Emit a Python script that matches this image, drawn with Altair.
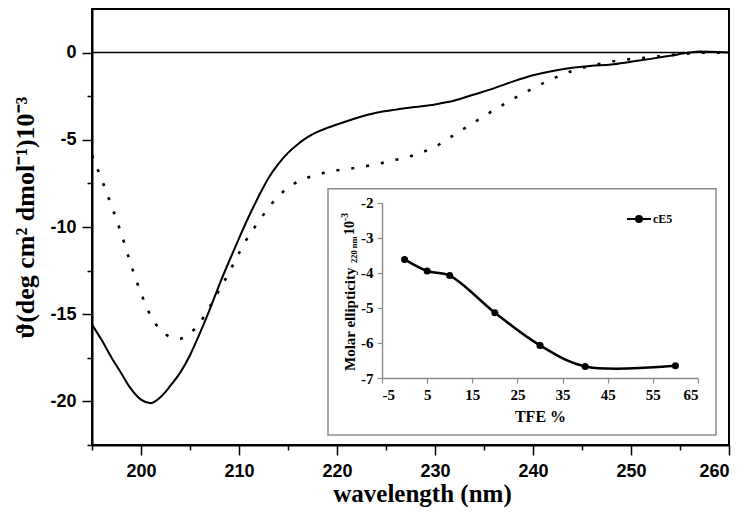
import altair as alt
import pandas as pd

# ---------------- data ----------------
solid_wl = [195, 196, 197, 198, 199, 200, 201, 202, 203, 204, 205, 206, 207, 208, 209, 210,
            211, 212, 213, 214, 215, 216, 217, 218, 219, 220, 222, 224, 226, 228, 230, 232,
            234, 236, 238, 240, 242, 244, 246, 248, 250, 252, 254, 256, 257, 258, 260]
solid_val = [-15.6, -16.5, -17.5, -18.4, -19.3, -19.9, -20.1, -19.75, -19.1, -18.35, -17.35,
             -16.1, -14.75, -13.3, -11.95, -10.65, -9.4, -8.25, -7.2, -6.4, -5.75, -5.25, -4.85,
             -4.55, -4.32, -4.12, -3.75, -3.45, -3.27, -3.12, -2.97, -2.75, -2.4, -2.05, -1.65,
             -1.3, -1.05, -0.87, -0.76, -0.68, -0.52, -0.36, -0.18, 0.0, 0.06, 0.05, 0.0]

dotted_wl = [195, 196, 197, 198, 199, 200, 201, 202, 203, 204, 205, 206, 207, 208, 209, 210,
             211, 212, 213, 214, 215, 216, 218, 220, 222, 224, 226, 228, 230, 232, 234, 236,
             238, 240, 242, 244, 246, 248, 250, 252, 254, 256, 258, 260]
dotted_val = [-5.9, -7.3, -8.8, -10.4, -12.2, -13.8, -15.1, -15.9, -16.3, -16.4, -16.1, -15.5,
              -14.6, -13.6, -12.6, -11.5, -10.5, -9.7, -8.9, -8.25, -7.75, -7.4, -7.0, -6.75,
              -6.6, -6.4, -6.15, -5.85, -5.4, -4.7, -4.0, -3.3, -2.65, -2.05, -1.5, -1.05,
              -0.75, -0.52, -0.37, -0.27, -0.14, -0.05, 0.0, 0.0]

tfe_pct = [0, 5, 10, 20, 30, 40, 60]
tfe_ellip = [-3.62, -3.95, -4.08, -5.14, -6.07, -6.67, -6.65]
series_name = ["cE5"] * len(tfe_pct)

x_major = [200, 210, 220, 230, 240, 250, 260]
x_minor = [195, 205, 215, 225, 235, 245, 255]
y_major = [-20, -15, -10, -5, 0]
y_minor = [-22.5, -17.5, -12.5, -7.5, -2.5]
inset_x_ticks = [-5, 5, 15, 25, 35, 45, 55, 65]
inset_y_ticks = [-7, -6, -5, -4, -3, -2]

# ---------------- layout ----------------
W, H = 637, 436
SANS = "Liberation Sans"
SERIF = "Liberation Serif"
GRAY = "#8c8c8c"

solid_df = pd.DataFrame({"wl": solid_wl, "val": solid_val})
dotted_df = pd.DataFrame({"wl": dotted_wl, "val": dotted_val})
zero_df = pd.DataFrame({"val": [0]})
tfe_df = pd.DataFrame({"tfe": tfe_pct, "ell": tfe_ellip, "series": series_name})
one = pd.DataFrame({"a": [0]})

xs = alt.Scale(domain=[195, 260], nice=False, zero=False)
ys = alt.Scale(domain=[-22.5, 2.5], nice=False, zero=False)

lab = "'' + datum.value"

x_axis = alt.Axis(orient="bottom", values=x_major, tickSize=10, tickWidth=1.5, tickColor="black",
                  domainColor="black", domainWidth=2, grid=False, labelExpr=lab,
                  labelFont=SANS, labelFontWeight="bold", labelFontSize=18, labelColor="black",
                  labelPadding=7, title="wavelength (nm)", titleFont=SERIF,
                  titleFontWeight="bold", titleFontSize=25, titleColor="black",
                  titleX=330, titleY=56, titleBaseline="alphabetic")
y_axis = alt.Axis(orient="left", values=y_major, tickSize=10, tickWidth=1.5, tickColor="black",
                  domainColor="black", domainWidth=2, grid=False, labelExpr=lab,
                  labelFont=SANS, labelFontWeight="bold", labelFontSize=18, labelColor="black",
                  labelPadding=6, title="ϑ(deg cm² dmol⁻¹)10⁻³", titleFont=SERIF,
                  titleFontWeight="bold", titleFontSize=26, titleColor="black",
                  titleX=-59, titleY=208, titleAngle=270, titleBaseline="alphabetic",
                  titleAlign="center")

X = alt.X("wl:Q", scale=xs, axis=x_axis)
Y = alt.Y("val:Q", scale=ys, axis=y_axis)

zero_rule = alt.Chart(zero_df).mark_rule(color="black", strokeWidth=1.5).encode(y=Y)
solid = alt.Chart(solid_df).mark_line(color="black", strokeWidth=2, interpolate="monotone").encode(x=X, y=Y)
dotted = alt.Chart(dotted_df).mark_line(color="black", strokeWidth=2.6, strokeDash=[3, 12],
                                         interpolate="monotone").encode(x=X, y=Y)
main = alt.layer(zero_rule, solid, dotted)

minor_x_axis = alt.Axis(orient="bottom", values=x_minor, tickSize=5, tickWidth=1.5, tickColor="black",
                        domain=False, labels=False, grid=False, title=None)
minor_y_axis = alt.Axis(orient="left", values=y_minor, tickSize=5, tickWidth=1.5, tickColor="black",
                        domain=False, labels=False, grid=False, title=None)
minor = alt.Chart(solid_df).mark_point(opacity=0).encode(
    x=alt.X("wl:Q", scale=xs, axis=minor_x_axis),
    y=alt.Y("val:Q", scale=ys, axis=minor_y_axis),
)

# ---------------- inset ----------------
ix0, ix1 = 290, 606
iy_bot, iy_top = 369.0, 193.6
ixs = alt.Scale(domain=[-5, 65], range=[ix0, ix1], nice=False, zero=False)
iys = alt.Scale(domain=[-7, -2], range=[iy_bot, iy_top], nice=False, zero=False)

inset_x_axis = alt.Axis(orient="bottom", offset=iy_bot - H, values=inset_x_ticks, tickSize=5,
                        tickColor=GRAY, tickWidth=1.2, domainColor=GRAY, domainWidth=1.5, grid=False,
                        labelExpr=lab, labelFont=SERIF, labelFontWeight="bold", labelFontSize=15,
                        labelColor="black", labelPadding=4, title="TFE %", titleFont=SERIF,
                        titleFontWeight="bold", titleFontSize=16, titleColor="black", titlePadding=6,
                        zindex=2)
inset_y_axis = alt.Axis(orient="left", offset=-ix0, values=inset_y_ticks, tickSize=5,
                        tickColor=GRAY, tickWidth=1.2, domainColor=GRAY, domainWidth=1.5, grid=False,
                        labelExpr=lab, labelFont=SERIF, labelFontWeight="bold", labelFontSize=15,
                        labelColor="black", labelPadding=4, title=None, zindex=2)

IX = alt.X("tfe:Q", scale=ixs, axis=inset_x_axis)
IY = alt.Y("ell:Q", scale=iys, axis=inset_y_axis)

frame = alt.Chart(one).mark_rect(fill="white", stroke=GRAY, strokeWidth=1.5).encode(
    x=alt.value(236), x2=alt.value(624), y=alt.value(179.8), y2=alt.value(426.1))

legend_symbol = "M-1,0H1M0.25,0A0.25,0.25,0,1,1,-0.25,0A0.25,0.25,0,1,1,0.25,0Z"
inset_line = alt.Chart(tfe_df).mark_line(strokeWidth=2.5, interpolate="catmull-rom").encode(
    x=IX, y=IY,
    color=alt.Color("series:N", scale=alt.Scale(domain=["cE5"], range=["black"]),
                    legend=alt.Legend(title=None, orient="none", legendX=534, legendY=197,
                                      symbolType=legend_symbol, symbolSize=576,
                                      symbolStrokeWidth=2, symbolFillColor="black",
                                      symbolStrokeColor="black", labelFont=SERIF,
                                      labelFontWeight="bold", labelFontSize=12,
                                      labelColor="black", labelOffset=1, padding=0)),
)
inset_pts = alt.Chart(tfe_df).mark_circle(size=50, color="black", opacity=1).encode(x=IX, y=IY)

def vtext(txt, x, y, size):
    return alt.Chart(one).mark_text(text=txt, angle=270, align="left", baseline="middle",
                                    font=SERIF, fontWeight="bold", fontSize=size,
                                    color="black").encode(x=alt.value(x), y=alt.value(y))

t1 = vtext("Molar ellipticity", 258, 362, 15)
t2 = vtext("220 nm", 262, 254, 8.5)
t3 = vtext("10", 258, 226, 14)
t4 = vtext("-3", 253, 212, 9.5)

inset = alt.layer(frame, inset_line, inset_pts, t1, t2, t3, t4)

chart = alt.layer(main, minor, inset).resolve_scale(
    x="independent", y="independent", color="independent"
).properties(
    width=W, height=H,
    autosize=alt.AutoSizeParams(type="none"),
    padding={"left": 84, "top": 1, "right": 8, "bottom": 64},
).configure_view(stroke="black", strokeWidth=2)

chart.save("out.html", embed_options={"renderer": "svg", "actions": False})
